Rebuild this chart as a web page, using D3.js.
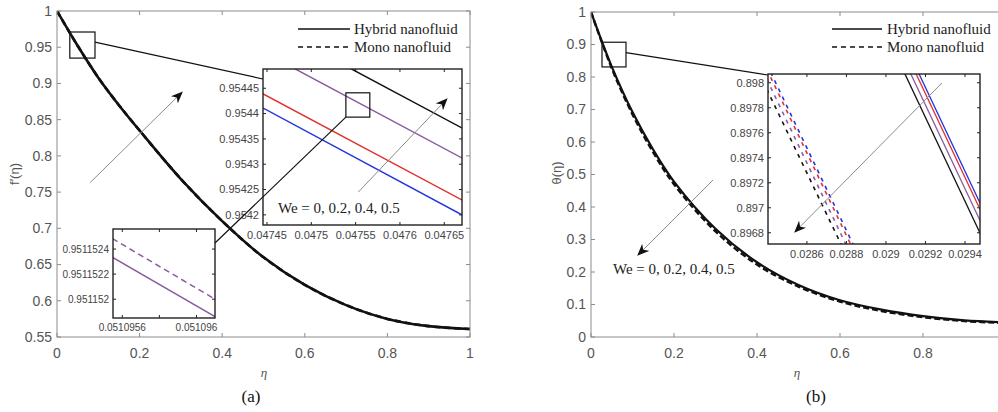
<!DOCTYPE html>
<html><head><meta charset="utf-8">
<script src="https://cdn.jsdelivr.net/npm/d3@7"></script>
<style>body{margin:0;background:#fff;} svg{display:block;}</style>
</head><body><svg id="c" width="998" height="412"></svg>
<script>
// ---------------- data ----------------
const eta = [0, 0.05, 0.1, 0.15, 0.2, 0.3, 0.4, 0.5, 0.6, 0.7, 0.8, 0.9, 1];
const fHybrid = [1, 0.952, 0.908, 0.870, 0.835, 0.768, 0.710, 0.660, 0.622, 0.594, 0.575, 0.565, 0.561];
const fMono   = [1, 0.952, 0.908, 0.870, 0.835, 0.768, 0.710, 0.660, 0.622, 0.594, 0.575, 0.565, 0.561];
const thetaHybrid = [1, 0.832, 0.692, 0.576, 0.478, 0.333, 0.230, 0.160, 0.113, 0.084, 0.064, 0.051, 0.045];
const thetaMono   = [1, 0.827, 0.685, 0.568, 0.470, 0.325, 0.223, 0.155, 0.109, 0.080, 0.061, 0.049, 0.043];

const weValues = ["0", "0.2", "0.4", "0.5"];
const weColors = ["#2233dd", "#e03030", "#8a5c9e", "#111111"];

// inset (a) large: f' near eta ~ 0.0475
const insetAx = [0.04740, 0.04770];
const insetA_We0 = [0.9544538, 0.9541716];
const insetA_We02 = [0.9544815, 0.9542013];
const insetA_We04 = [0.9545645, 0.9542843];
const insetA_We05 = [0.9546237, 0.9543435];
// inset (a) small: hybrid vs mono
const insetA2x = [0.05109550, 0.05109612];
const insetA2Hybrid = [0.951152374, 0.951151843];
const insetA2Mono = [0.951152524, 0.951151983];
// inset (b): theta near eta ~ 0.029
const insetBx = [0.0282, 0.0296];
const insetB_hyb_We0 = [0.901312, 0.896622];
const insetB_hyb_We02 = [0.901262, 0.896572];
const insetB_hyb_We04 = [0.901172, 0.896482];
const insetB_hyb_We05 = [0.901072, 0.896382];
const insetB_mono_We0 = [0.898798, 0.894178];
const insetB_mono_We02 = [0.898758, 0.894138];
const insetB_mono_We04 = [0.898678, 0.894058];
const insetB_mono_We05 = [0.898598, 0.893978];

// tick labels
const aXTicks = [0, 0.2, 0.4, 0.6, 0.8, 1];
const aYTicks = [0.55, 0.6, 0.65, 0.7, 0.75, 0.8, 0.85, 0.9, 0.95, 1];
const bXTicks = [0, 0.2, 0.4, 0.6, 0.8];
const bYTicks = [0, 0.1, 0.2, 0.3, 0.4, 0.5, 0.6, 0.7, 0.8, 0.9, 1];
const iaXTicks = [0.04745, 0.0475, 0.04755, 0.0476, 0.04765];
const iaYTicks = [0.9542, 0.95425, 0.9543, 0.95435, 0.9544, 0.95445];
const ia2XTicks = [0.0510956, 0.0510958, 0.051096];
const ia2XLabels = ["0.0510956", "", "0.051096"];
const ia2YTicks = [0.951152, 0.9511522, 0.9511524];
const ibXTicks = [0.0286, 0.0288, 0.029, 0.0292, 0.0294];
const ibYTicks = [0.8968, 0.897, 0.8972, 0.8974, 0.8976, 0.8978, 0.898];

// annotation anchors (data coordinates)
const aZoomBox = {x: [0.031, 0.092], y: [0.935, 0.971]};
const aArrow = {from: [0.080, 0.763], to: [0.303, 0.888]};
const iaZoomBox = {x: [0.047539, 0.047566], y: [0.954393, 0.954441]};
const iaArrow = {from: [0.047553, 0.954245], to: [0.047653, 0.954429]};
const bZoomBox = {x: [0.0265, 0.0843], y: [0.831, 0.907]};
const bArrow = {from: [0.294, 0.483], to: [0.113, 0.252]};
const ibArrow = {from: [0.029283, 0.897998], to: [0.028539, 0.896806]};

// ---------------- drawing ----------------
const svg = d3.select("#c");
svg.append("rect").attr("width", 998).attr("height", 412).attr("fill", "#fff");
const defs = svg.append("defs");
defs.append("marker").attr("id", "ah").attr("viewBox", "0 0 12 10")
  .attr("refX", 11).attr("refY", 5).attr("markerWidth", 12).attr("markerHeight", 10)
  .attr("markerUnits", "userSpaceOnUse").attr("orient", "auto")
  .append("path").attr("d", "M0,0 L12,5 L0,10 L3.5,5 Z").attr("fill", "#111");

const SANS = "'Liberation Sans', Arial, sans-serif";
const SERIF = "'Liberation Serif', 'Times New Roman', serif";
let clipId = 0;

function frame(g, x, y, o) {
  const [x0, x1] = x.range(), [yb, yt] = y.range();
  const t = o.tick;
  if (o.fill) g.append("rect").attr("x", x0).attr("y", yt).attr("width", x1 - x0).attr("height", yb - yt).attr("fill", "#fff");
  const tg = g.append("g").attr("stroke", o.stroke).attr("stroke-width", 1);
  o.xt.forEach((v, i) => {
    const px = x(v);
    tg.append("line").attr("x1", px).attr("x2", px).attr("y1", yb).attr("y2", yb - t);
    tg.append("line").attr("x1", px).attr("x2", px).attr("y1", yt).attr("y2", yt + t);
    const lab = o.xl ? o.xl[i] : String(v);
    if (lab) g.append("text").attr("x", px).attr("y", yb + o.xpad).attr("text-anchor", "middle")
      .attr("font-family", SANS).attr("font-size", o.fs).attr("fill", o.tc).text(lab);
  });
  o.yt.forEach(v => {
    const py = y(v);
    tg.append("line").attr("x1", x0).attr("x2", x0 + t).attr("y1", py).attr("y2", py);
    tg.append("line").attr("x1", x1).attr("x2", x1 - t).attr("y1", py).attr("y2", py);
    g.append("text").attr("x", x0 - o.ypad).attr("y", py).attr("dy", "0.35em").attr("text-anchor", "end")
      .attr("font-family", SANS).attr("font-size", o.fs).attr("fill", o.tc).text(String(v));
  });
}
function box(g, x, y, o) {
  const [x0, x1] = x.range(), [yb, yt] = y.range();
  g.append("rect").attr("x", x0).attr("y", yt).attr("width", x1 - x0).attr("height", yb - yt)
    .attr("fill", "none").attr("stroke", o.stroke).attr("stroke-width", o.sw);
}
function clipFor(x, y) {
  const id = "cl" + (clipId++);
  const [x0, x1] = x.range(), [yb, yt] = y.range();
  defs.append("clipPath").attr("id", id).append("rect").attr("x", x0).attr("y", yt).attr("width", x1 - x0).attr("height", yb - yt);
  return "url(#" + id + ")";
}
function series(g, x, y, xs, ys, color, width, dash, curve) {
  const line = d3.line().x((d, i) => x(xs[i])).y(d => y(d)).curve(curve || d3.curveLinear);
  g.append("path").attr("d", line(ys)).attr("fill", "none").attr("stroke", color)
    .attr("stroke-width", width).attr("stroke-dasharray", dash || null);
}
function arrow(g, x, y, a) {
  g.append("line").attr("x1", x(a.from[0])).attr("y1", y(a.from[1])).attr("x2", x(a.to[0])).attr("y2", y(a.to[1]))
    .attr("stroke", "#8c8c8c").attr("stroke-width", 1).attr("marker-end", "url(#ah)");
}
function zoomRect(g, x, y, b) {
  g.append("rect").attr("x", x(b.x[0])).attr("y", y(b.y[1])).attr("width", x(b.x[1]) - x(b.x[0]))
    .attr("height", y(b.y[0]) - y(b.y[1])).attr("fill", "none").attr("stroke", "#111").attr("stroke-width", 1.2);
}
function legend(g, lx, tx, y1, y2) {
  g.append("line").attr("x1", lx[0]).attr("x2", lx[1]).attr("y1", y1).attr("y2", y1).attr("stroke", "#111").attr("stroke-width", 1.3);
  g.append("line").attr("x1", lx[0]).attr("x2", lx[1]).attr("y1", y2).attr("y2", y2).attr("stroke", "#111").attr("stroke-width", 1.3).attr("stroke-dasharray", "5,4");
  g.append("text").attr("x", tx).attr("y", y1 + 5).attr("font-family", SERIF).attr("font-size", 15).attr("fill", "#222").text("Hybrid nanofluid");
  g.append("text").attr("x", tx).attr("y", y2 + 5).attr("font-family", SERIF).attr("font-size", 15).attr("fill", "#222").text("Mono nanofluid");
}
const MAINAX = {tick: 4, stroke: "#8c8c8c", fs: 14, tc: "#555", xpad: 21, ypad: 5};
const INAX = {tick: 3, stroke: "#222", fs: 11, tc: "#444", xpad: 14, ypad: 4, fill: true};

// ======== panel (a) ========
const ga = svg.append("g");
const ax = d3.scaleLinear([0, 1], [57, 470]);
const ay = d3.scaleLinear([0.55, 1], [337, 11]);
frame(ga, ax, ay, Object.assign({xt: aXTicks, yt: aYTicks}, MAINAX));
const gaC = ga.append("g").attr("clip-path", clipFor(ax, ay));
series(gaC, ax, ay, eta, fHybrid, "#111", 2.6, null, d3.curveCatmullRom);
series(gaC, ax, ay, eta, fMono, "#111", 2.6, "6,4", d3.curveCatmullRom);
box(ga, ax, ay, {stroke: "#8c8c8c", sw: 1});
legend(ga, [298, 350], 354, 29, 47);
zoomRect(ga, ax, ay, aZoomBox);
arrow(ga, ax, ay, aArrow);
ga.append("text").attr("transform", "translate(19,174) rotate(-90)").attr("text-anchor", "middle")
  .attr("font-family", SANS).attr("font-size", 13).attr("fill", "#555").text("f′(η)");
ga.append("text").attr("x", 264).attr("y", 377).attr("text-anchor", "middle").attr("font-family", SERIF)
  .attr("font-style", "italic").attr("font-size", 13).attr("fill", "#555").text("η");
ga.append("text").attr("x", 251).attr("y", 402).attr("text-anchor", "middle").attr("font-family", SERIF)
  .attr("font-size", 17).attr("fill", "#111").text("(a)");

// inset A1
const ix = d3.scaleLinear([0.0474455, 0.0476700], [263, 462]);
const iy = d3.scaleLinear([0.95418, 0.954488], [225, 69]);
ga.append("line").attr("x1", ax(aZoomBox.x[1])).attr("y1", (ay(aZoomBox.y[0]) + ay(aZoomBox.y[1])) / 2 - 3)
  .attr("x2", 263).attr("y2", 79).attr("stroke", "#111").attr("stroke-width", 1.2);
const gi = ga.append("g");
frame(gi, ix, iy, Object.assign({xt: iaXTicks, yt: iaYTicks}, INAX));
const giC = gi.append("g").attr("clip-path", clipFor(ix, iy));
[insetA_We0, insetA_We02, insetA_We04, insetA_We05].forEach((s, k) => series(giC, ix, iy, insetAx, s, weColors[k], 1.5));
box(gi, ix, iy, {stroke: "#222", sw: 1.4});
arrow(gi, ix, iy, iaArrow);
gi.append("text").attr("x", 278).attr("y", 213).attr("font-family", SERIF).attr("font-size", 15).attr("fill", "#222")
  .text("We = 0, 0.2, 0.4, 0.5");
zoomRect(gi, ix, iy, iaZoomBox);

// inset A2
const jx = d3.scaleLinear([0.05109555, 0.05109610], [113, 215]);
const jy = d3.scaleLinear([0.95115185, 0.95115256], [318, 229]);
const gj = ga.append("g");
frame(gj, jx, jy, Object.assign({}, INAX, {xt: ia2XTicks, xl: ia2XLabels, yt: ia2YTicks, fs: 10, xpad: 13}));
const gjC = gj.append("g").attr("clip-path", clipFor(jx, jy));
series(gjC, jx, jy, insetA2x, insetA2Mono, weColors[2], 1.5, "6,4");
series(gjC, jx, jy, insetA2x, insetA2Hybrid, weColors[2], 1.5);
box(gj, jx, jy, {stroke: "#222", sw: 1.4});
ga.append("line").attr("x1", ix(iaZoomBox.x[0])).attr("y1", iy(iaZoomBox.y[0]))
  .attr("x2", 215).attr("y2", 243).attr("stroke", "#111").attr("stroke-width", 1.2);

// ======== panel (b) ========
const gb = svg.append("g");
const bx = d3.scaleLinear([0, 1], [591, 1006]);
const by = d3.scaleLinear([0, 1], [337, 12]);
frame(gb, bx, by, Object.assign({xt: bXTicks, yt: bYTicks}, MAINAX));
const gbC = gb.append("g").attr("clip-path", clipFor(bx, by));
series(gbC, bx, by, eta, thetaHybrid, "#111", 2.2, null, d3.curveCatmullRom);
series(gbC, bx, by, eta, thetaMono, "#111", 2.4, "6,3", d3.curveCatmullRom);
box(gb, bx, by, {stroke: "#8c8c8c", sw: 1});
legend(gb, [832, 882], 887, 29, 47);
zoomRect(gb, bx, by, bZoomBox);
arrow(gb, bx, by, bArrow);
gb.append("text").attr("x", 613).attr("y", 274).attr("font-family", SERIF).attr("font-size", 15).attr("fill", "#222")
  .text("We = 0, 0.2, 0.4, 0.5");
gb.append("text").attr("transform", "translate(561,173) rotate(-90)").attr("text-anchor", "middle")
  .attr("font-family", SANS).attr("font-size", 13).attr("fill", "#555").text("θ(η)");
gb.append("text").attr("x", 797).attr("y", 377).attr("text-anchor", "middle").attr("font-family", SERIF)
  .attr("font-style", "italic").attr("font-size", 13).attr("fill", "#555").text("η");
gb.append("text").attr("x", 816).attr("y", 402).attr("text-anchor", "middle").attr("font-family", SERIF)
  .attr("font-size", 17).attr("fill", "#111").text("(b)");

// inset B
const kx = d3.scaleLinear([0.028403, 0.029476], [768, 980]);
const ky = d3.scaleLinear([0.89671, 0.89807], [244, 74]);
gb.append("line").attr("x1", bx(bZoomBox.x[1])).attr("y1", (by(bZoomBox.y[0]) + by(bZoomBox.y[1])) / 2 - 2)
  .attr("x2", 768).attr("y2", 75).attr("stroke", "#111").attr("stroke-width", 1.2);
const gk = gb.append("g");
frame(gk, kx, ky, Object.assign({xt: ibXTicks, yt: ibYTicks}, INAX));
const gkC = gk.append("g").attr("clip-path", clipFor(kx, ky));
[insetB_mono_We0, insetB_mono_We02, insetB_mono_We04, insetB_mono_We05].forEach((s, k) => series(gkC, kx, ky, insetBx, s, weColors[k], 1.6, "4,5"));
[insetB_hyb_We0, insetB_hyb_We02, insetB_hyb_We04, insetB_hyb_We05].forEach((s, k) => series(gkC, kx, ky, insetBx, s, weColors[k], 1.3));
box(gk, kx, ky, {stroke: "#222", sw: 1.4});
arrow(gk, kx, ky, ibArrow);
</script></body></html>
